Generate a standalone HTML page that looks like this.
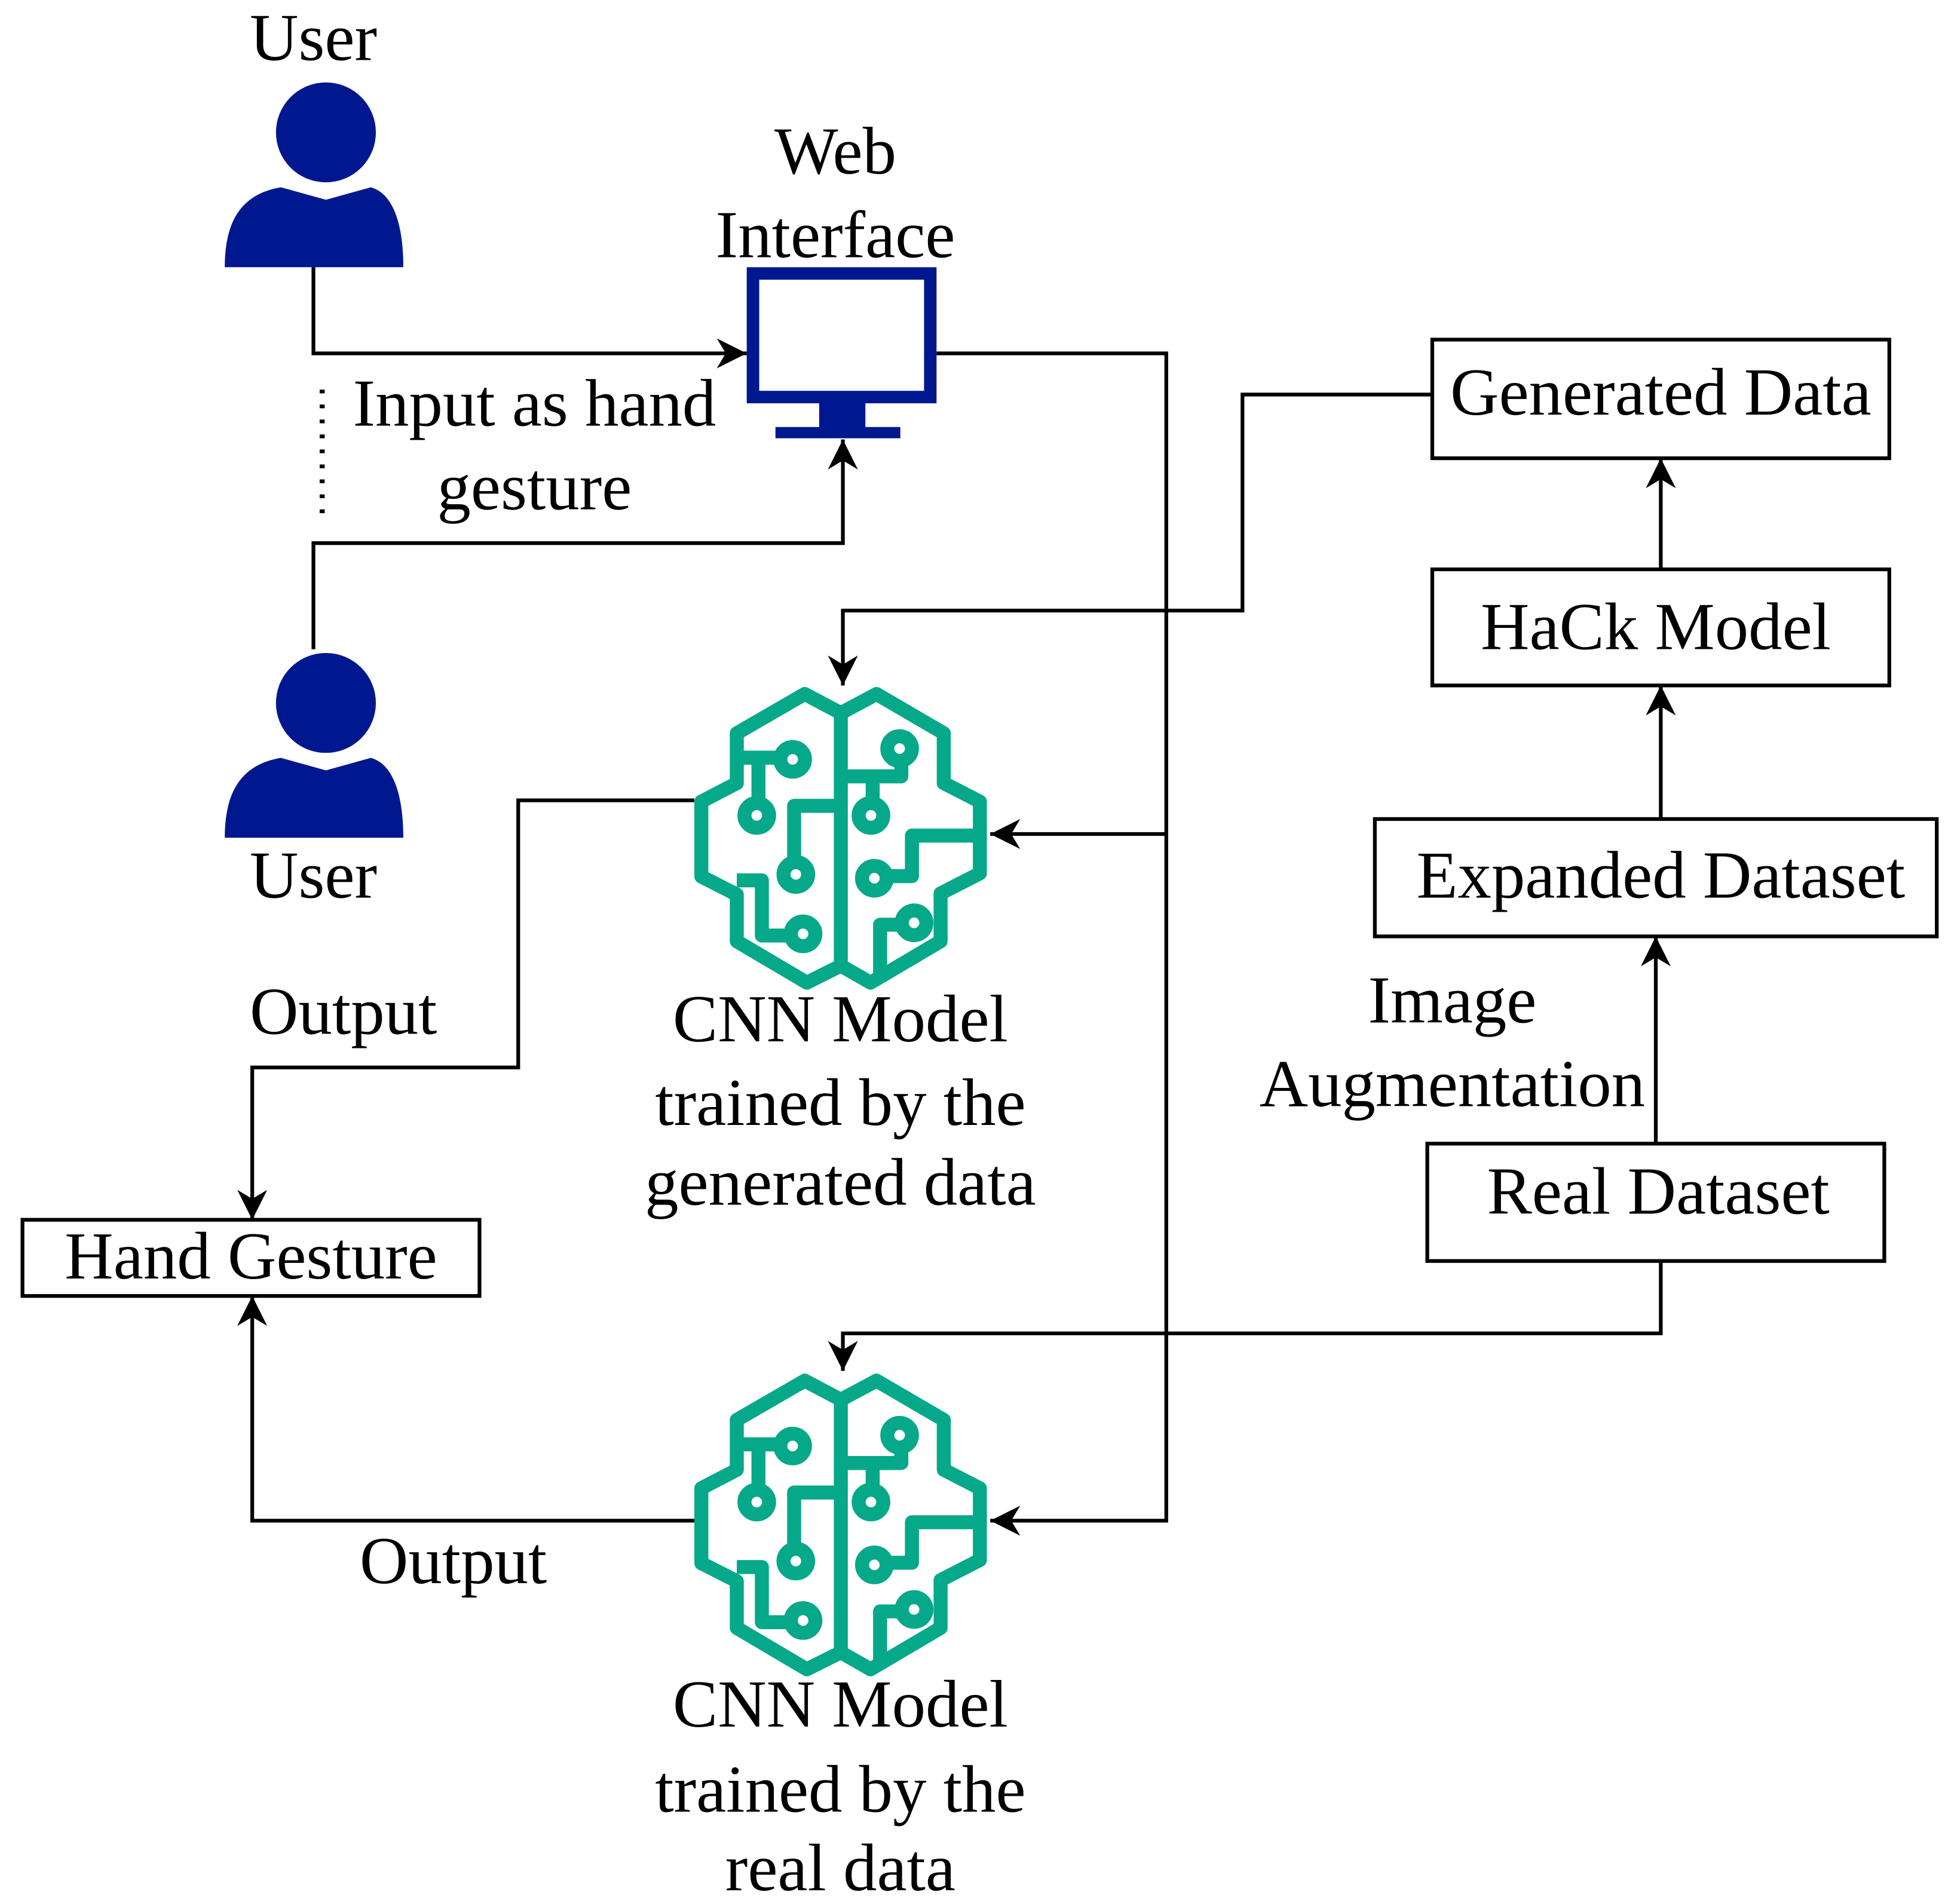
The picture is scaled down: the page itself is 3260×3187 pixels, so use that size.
<!DOCTYPE html>
<html><head><meta charset="utf-8"><style>
html,body{margin:0;padding:0;background:#fff;}
svg{display:block;}
text{font-family:"Liberation Serif",serif;font-size:54px;fill:#000;text-anchor:middle;}
</style></head><body>
<svg width="3260" height="3187" viewBox="0 0 1560 1525" xmlns="http://www.w3.org/2000/svg">
<defs>
<marker id="ah" viewBox="0 0 10 10" refX="10" refY="5" markerWidth="26" markerHeight="24" markerUnits="userSpaceOnUse" orient="auto">
<path d="M0,0 L10,5 L0,10 L3,5 Z" fill="#000"/></marker>
<g id="brain" fill="none" stroke="#06A88A" stroke-width="66" stroke-linejoin="round">
<path d="M735,195 L565,105 L245,290 L245,525 L78,612 L78,965 L245,1050 L245,1270 L575,1465 L735,1385"/>
<path d="M735,195 L903,105 L1220,290 L1220,525 L1390,612 L1390,950 L1205,1045 L1205,1270 L875,1465 L735,1385"/>
<path d="M735,195 L735,1385"/>
<path d="M245,405 L450,405"/><circle cx="508" cy="413" r="58"/>
<path d="M347,405 L347,620"/><circle cx="339" cy="677" r="58"/>
<path d="M735,632 L515,632 L515,897"/><circle cx="523" cy="955" r="58"/>
<path d="M245,983 L363,983 L363,1243 L500,1243"/><circle cx="557" cy="1235" r="58"/>
<path d="M735,493 L1020,493 L1020,420"/><circle cx="1012" cy="362" r="58"/>
<path d="M885,493 L885,620"/><circle cx="877" cy="677" r="58"/>
<path d="M1390,772 L1070,772 L1070,963 L950,963"/><circle cx="893" cy="973" r="58"/>
<path d="M920,1430 L920,1192 L1020,1192"/><circle cx="1080" cy="1183" r="58"/>
</g>
<g id="user">
<path d="M180,214 C180,175 195,155 225,150 L261,160 L297,150 C315,155 323,180 323,214 Z" fill="#00188F"/>
<circle cx="261" cy="106" r="42" fill="#00188F" stroke="#fff" stroke-width="4"/>
</g>
</defs>

<use href="#user"/>
<use href="#user" transform="translate(0,457)"/>
<text x="251" y="48">User</text>
<text x="251" y="719">User</text>

<rect x="603" y="219" width="142" height="99" fill="none" stroke="#00188F" stroke-width="10"/>
<rect x="656" y="322" width="37" height="24" fill="#00188F"/>
<rect x="621" y="342" width="100" height="9" fill="#00188F"/>
<text x="669" y="139">Web</text>
<text x="669" y="206">Interface</text>

<g fill="none" stroke="#000" stroke-width="3">
<path d="M251,214 V283 H598" marker-end="url(#ah)"/>
<path d="M251,520 V435 H675 V352" marker-end="url(#ah)"/>
<path d="M258,312 V412" stroke-dasharray="3,9" stroke-width="4"/>
<path d="M750,283 H934 V1218 H793" marker-end="url(#ah)"/>
<path d="M934,668 H793" marker-end="url(#ah)"/>
<path d="M1147,316 H995 V489 H675 V549" marker-end="url(#ah)"/>
<path d="M1330,456 V367" marker-end="url(#ah)"/>
<path d="M1330,656 V549" marker-end="url(#ah)"/>
<path d="M1326,916 V750" marker-end="url(#ah)"/>
<path d="M1330,1010 V1068 H675 V1098" marker-end="url(#ah)"/>
<path d="M556,641 H415 V855 H202 V977" marker-end="url(#ah)"/>
<path d="M556,1218 H202 V1038" marker-end="url(#ah)"/>
<rect x="1147" y="272" width="366" height="95"/>
<rect x="1147" y="456" width="366" height="93"/>
<rect x="1101" y="656" width="450" height="94"/>
<rect x="1143" y="916" width="366" height="94"/>
<rect x="18" y="977" width="366" height="61"/>
</g>

<text x="428" y="341">Input as hand</text>
<text x="428" y="408">gesture</text>
<text x="1330" y="332">Generated Data</text>
<text x="1326" y="520">HaCk Model</text>
<text x="1330" y="719">Expanded Dataset</text>
<text x="1328" y="972">Real Dataset</text>
<text x="1163" y="819">Image</text>
<text x="1163" y="886">Augmentation</text>
<text x="275" y="828">Output</text>
<text x="363" y="1268">Output</text>
<text x="201" y="1024">Hand Gesture</text>
<text x="673" y="834">CNN Model</text>
<text x="673" y="901">trained by the</text>
<text x="673" y="965">generated data</text>
<text x="673" y="1383">CNN Model</text>
<text x="673" y="1451">trained by the</text>
<text x="673" y="1514">real data</text>

<use href="#brain" transform="translate(548.4,538) scale(0.17)"/>
<use href="#brain" transform="translate(548.4,1088) scale(0.17)"/>
</svg>
</body></html>
